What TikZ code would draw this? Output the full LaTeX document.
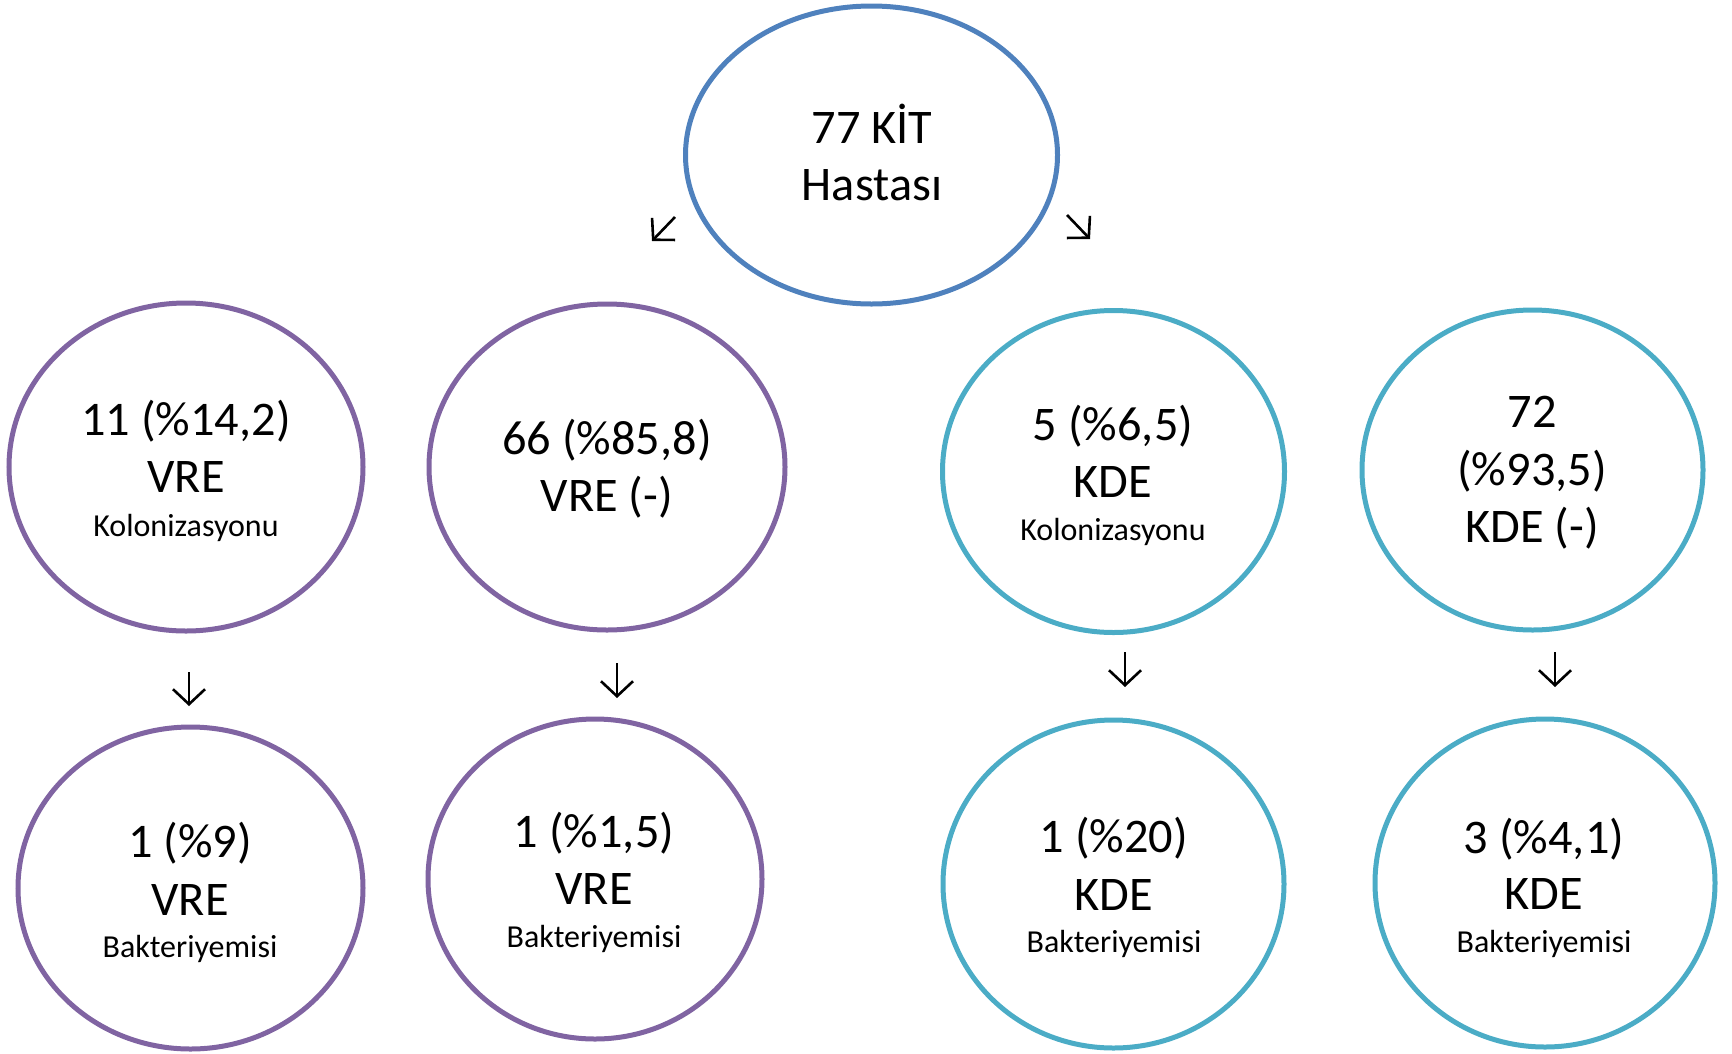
\documentclass[tikz,border=0pt]{standalone}
\usepackage{fontspec}
\setmainfont{Carlito}
\usetikzlibrary{shapes.geometric,arrows.meta}
\definecolor{topblue}{HTML}{4F81BD}
\definecolor{vrepurple}{HTML}{8064A2}
\definecolor{kdeteal}{HTML}{4BACC6}
\tikzset{
  oval/.style={ellipse,draw,line width=5pt,inner sep=0pt,outer sep=0pt},
  bigtxt/.style={anchor=base,inner sep=0pt,font=\fontsize{48.3}{57}\selectfont},
  smalltxt/.style={anchor=base,inner sep=0pt,font=\fontsize{32}{36}\selectfont},
  flowarrow/.style={line width=2.6pt,-{Straight Barb[length=15pt,width=32pt,line width=2.6pt]}}
}
\begin{document}
\begin{tikzpicture}[x=1pt,y=-1pt]
\useasboundingbox (0,0) rectangle (1732,1053);
% top
\node[oval,draw=topblue,minimum width=372pt,minimum height=298pt] (top) at (871.5,155) {};
\node[bigtxt] (t1) at (872,143) {77 KİT};
\node[bigtxt] (t2) at (872,200) {Hastası};
% row 1
\node[oval,draw=vrepurple,minimum width=354pt,minimum height=328pt] (vrec) at (186,467) {};
\node[bigtxt] (a1) at (186,435) {11 (\%14,2)};
\node[bigtxt] (a2) at (186,492) {VRE};
\node[smalltxt] (a3) at (186,536) {Kolonizasyonu};

\node[oval,draw=vrepurple,minimum width=356pt,minimum height=326pt] (vren) at (607,467) {};
\node[bigtxt] (b1) at (607,454) {66 (\%85,8)};
\node[bigtxt] (b2) at (607,511) {VRE (-)};

\node[oval,draw=kdeteal,minimum width=342pt,minimum height=322pt] (kdec) at (1113.5,471.5) {};
\node[bigtxt] (c1) at (1113,440) {5 (\%6,5)};
\node[bigtxt] (c2) at (1113,497) {KDE};
\node[smalltxt] (c3) at (1113,540) {Kolonizasyonu};

\node[oval,draw=kdeteal,minimum width=341pt,minimum height=320pt] (kden) at (1532.5,470) {};
\node[bigtxt] (d1) at (1532,427) {72};
\node[bigtxt] (d2) at (1532,485) {(\%93,5)};
\node[bigtxt] (d3) at (1532,542) {KDE (-)};
% row 2
\node[oval,draw=vrepurple,minimum width=345pt,minimum height=322pt] (vreb1) at (190.5,888) {};
\node[bigtxt] (e1) at (190,857) {1 (\%9)};
\node[bigtxt] (e2) at (190,915) {VRE};
\node[smalltxt] (e3) at (190,957) {Bakteriyemisi};

\node[oval,draw=vrepurple,minimum width=334pt,minimum height=320pt] (vreb2) at (595,879) {};
\node[bigtxt] (f1) at (594,847) {1 (\%1,5)};
\node[bigtxt] (f2) at (594,904) {VRE};
\node[smalltxt] (f3) at (594,947) {Bakteriyemisi};

\node[oval,draw=kdeteal,minimum width=341pt,minimum height=328pt] (kdeb1) at (1113.5,884) {};
\node[bigtxt] (g1) at (1114,852) {1 (\%20)};
\node[bigtxt] (g2) at (1114,910) {KDE};
\node[smalltxt] (g3) at (1114,952) {Bakteriyemisi};

\node[oval,draw=kdeteal,minimum width=340pt,minimum height=328pt] (kdeb2) at (1545,883) {};
\node[bigtxt] (h1) at (1544,853) {3 (\%4,1)};
\node[bigtxt] (h2) at (1544,909) {KDE};
\node[smalltxt] (h3) at (1544,952) {Bakteriyemisi};
% arrows
\coordinate (la0) at (675,217); \coordinate (la1) at (652,241);
\coordinate (ra0) at (1067,215); \coordinate (ra1) at (1090,239);
\coordinate (d10) at (189,672); \coordinate (d11) at (189,706);
\coordinate (d20) at (617,663); \coordinate (d21) at (617,698);
\coordinate (d30) at (1125,652); \coordinate (d31) at (1125,687);
\coordinate (d40) at (1555,652); \coordinate (d41) at (1555,687);
\draw[flowarrow] (la0) -- (la1);
\draw[flowarrow] (ra0) -- (ra1);
\draw[flowarrow] (d10) -- (d11);
\draw[flowarrow] (d20) -- (d21);
\draw[flowarrow] (d30) -- (d31);
\draw[flowarrow] (d40) -- (d41);
\end{tikzpicture}
\end{document}
